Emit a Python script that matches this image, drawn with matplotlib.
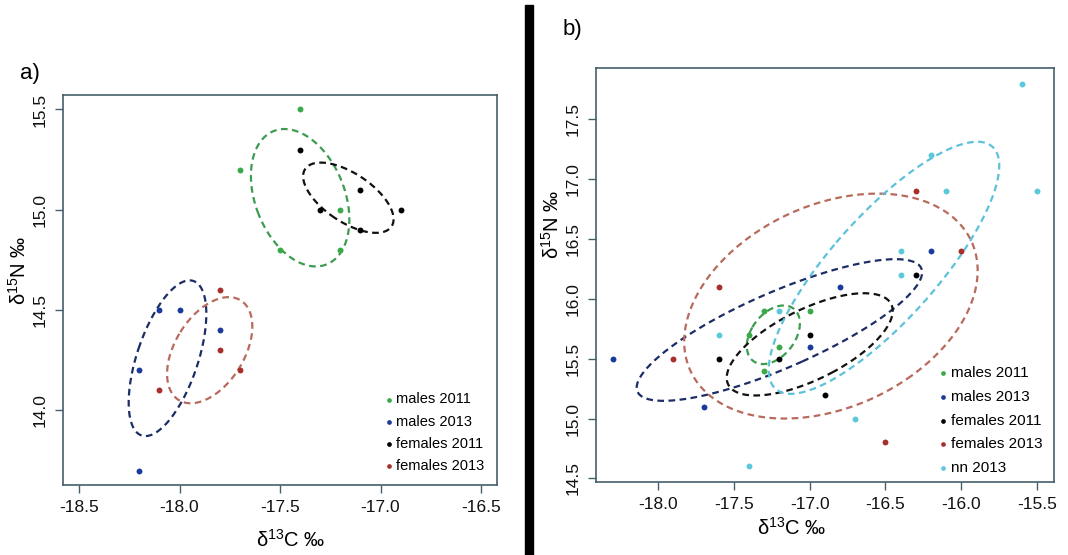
import matplotlib
matplotlib.use("Agg")
import matplotlib.pyplot as plt
from matplotlib.patches import Rectangle
import numpy as np

plt.rcParams['font.family'] = ['Liberation Sans', 'DejaVu Sans']

# panel a) isotope values
a_m11_x = [-17.4, -17.7, -17.2, -17.5, -17.2]
a_m11_y = [15.5, 15.2, 15.0, 14.8, 14.8]
a_m13_x = [-18.1, -18.0, -17.8, -18.2, -18.2]
a_m13_y = [14.5, 14.5, 14.4, 14.2, 13.7]
a_f11_x = [-17.4, -17.1, -17.3, -16.9, -17.1]
a_f11_y = [15.3, 15.1, 15.0, 15.0, 14.9]
a_f13_x = [-17.8, -17.8, -17.7, -18.1]
a_f13_y = [14.6, 14.3, 14.2, 14.1]

# panel b) isotope values
b_m11_x = [-17.4, -17.3, -17.2, -17.3, -17.0]
b_m11_y = [15.7, 15.9, 15.6, 15.4, 15.9]
b_m13_x = [-18.3, -17.7, -17.0, -16.8, -16.2]
b_m13_y = [15.5, 15.1, 15.6, 16.1, 16.4]
b_f11_x = [-17.6, -17.2, -17.0, -16.9, -16.3]
b_f11_y = [15.5, 15.5, 15.7, 15.2, 16.2]
b_f13_x = [-17.9, -17.6, -16.3, -16.0, -16.5]
b_f13_y = [15.5, 16.1, 16.9, 16.4, 14.8]
b_nn_x = [-17.6, -17.2, -17.4, -16.7, -15.6, -16.2, -16.1, -15.5, -16.4, -16.4]
b_nn_y = [15.7, 15.9, 14.6, 15.0, 17.8, 17.2, 16.9, 16.9, 16.4, 16.2]

labels = ['males 2011', 'males 2013', 'females 2011', 'females 2013', 'nn 2013']
pt_cols = ['#3aaa48', '#1b3a9e', '#000000', '#a8302c', '#5cc8dc']
el_cols = ['#3c9c50', '#1c2d66', '#111111', '#b86a5c', '#5cc2da']

frame_col = '#44606c'


def sea_c(x, y):
    # small-sample corrected standard ellipse (SEAc)
    x = np.asarray(x); y = np.asarray(y)
    n = len(x)
    cov = np.cov(x, y) * (n - 1) / (n - 2)
    vals, vecs = np.linalg.eigh(cov)
    t = np.linspace(0, 2 * np.pi, 200)
    circ = np.vstack([np.cos(t), np.sin(t)])
    pts = vecs @ (np.sqrt(vals)[:, None] * circ)
    return x.mean() + pts[0], y.mean() + pts[1]


def panel(ax, groups, xticks, yticks, leg_anchor, leg_fs, leg_sp, xlim=None):
    for i, (gx, gy) in enumerate(groups):
        ax.scatter(gx, gy, s=18, color=pt_cols[i], label=labels[i], zorder=3,
                   linewidths=0)
        ex, ey = sea_c(gx, gy)
        ax.plot(ex, ey, color=el_cols[i], lw=1.6, dashes=(3, 2), zorder=2)
    allx = np.concatenate([g[0] for g in groups])
    ally = np.concatenate([g[1] for g in groups])
    if xlim is None:
        xlim = (allx.min(), allx.max())
    dx = (xlim[1] - xlim[0]) * 0.04
    dy = (ally.max() - ally.min()) * 0.04
    ax.set_xlim(xlim[0] - dx, xlim[1] + dx)
    ax.set_ylim(ally.min() - dy, ally.max() + dy)
    ax.set_xticks(xticks)
    ax.set_yticks(yticks)
    ax.set_xticklabels(['%.1f' % v for v in xticks])
    ax.set_yticklabels(['%.1f' % v for v in yticks], rotation=90, va='center')
    ax.tick_params(direction='out', length=6, width=1, colors=frame_col,
                   labelcolor='#111111', labelsize=12.5, pad=5)
    for s in ax.spines.values():
        s.set_color(frame_col)
        s.set_linewidth(1.2)
    ax.legend(loc='lower left', bbox_to_anchor=leg_anchor, frameon=False,
              fontsize=leg_fs, handletextpad=0.12, labelspacing=leg_sp,
              borderaxespad=0, borderpad=0, markerscale=0.8, handlelength=0.8)


fig = plt.figure(figsize=(10.68, 5.55), dpi=100)

ax1 = fig.add_axes([0.059, 0.1261, 0.4064, 0.7027])
panel(ax1, [(a_m11_x, a_m11_y), (a_m13_x, a_m13_y), (a_f11_x, a_f11_y),
            (a_f13_x, a_f13_y)],
      [-18.5, -18.0, -17.5, -17.0, -16.5], [14.0, 14.5, 15.0, 15.5],
      (0.737, 0.031), 10.5, 0.56, xlim=(-18.5, -16.5))

ax2 = fig.add_axes([0.5578, 0.1321, 0.4291, 0.7449])
panel(ax2, [(b_m11_x, b_m11_y), (b_m13_x, b_m13_y), (b_f11_x, b_f11_y),
            (b_f13_x, b_f13_y), (b_nn_x, b_nn_y)],
      [-18.0, -17.5, -17.0, -16.5, -16.0, -15.5],
      [14.5, 15.0, 15.5, 16.0, 16.5, 17.0, 17.5],
      (0.745, 0.016), 11, 0.64)

xlab = r'$\mathregular{\delta^{13}C}$ ‰'
ylab = r'$\mathregular{\delta^{15}N}$ ‰'
fig.text(291 / 1068, 1 - 540 / 555, xlab, fontsize=14.5, ha='center', va='center')
fig.text(792 / 1068, 1 - 528 / 555, xlab, fontsize=14.5, ha='center', va='center')
fig.text(19 / 1068, 1 - 270 / 555, ylab, fontsize=14.5, rotation=90,
         ha='center', va='center')
fig.text(552 / 1068, 1 - 224 / 555, ylab, fontsize=14.5, rotation=90,
         ha='center', va='center')

fig.text(30 / 1068, 1 - 73 / 555, 'a)', fontsize=16, ha='center', va='center')
fig.text(572 / 1068, 1 - 30 / 555, 'b)', fontsize=16, ha='center', va='center')

# black divider between the panels
fig.add_artist(Rectangle((525 / 1068, 0), 8 / 1068, 1 - 5 / 555,
                         transform=fig.transFigure, color='black'))

fig.savefig('out.png', dpi=100)
